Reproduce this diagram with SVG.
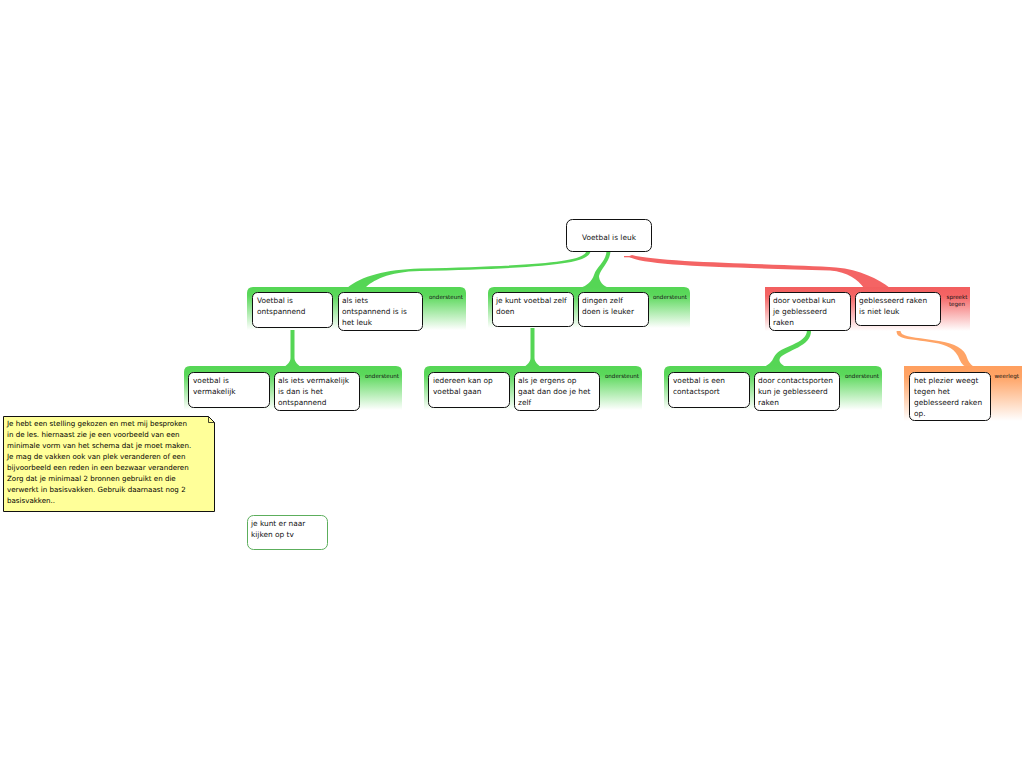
<svg xmlns="http://www.w3.org/2000/svg" width="1024" height="768" viewBox="0 0 1024 768">
<defs>
<linearGradient id="gGreen" x1="0" y1="0" x2="0" y2="1">
<stop offset="0" stop-color="#55d655"/><stop offset="0.2" stop-color="#5bd85b"/><stop offset="1" stop-color="#ffffff"/>
</linearGradient>
<linearGradient id="gRed" x1="0" y1="0" x2="0" y2="1">
<stop offset="0" stop-color="#f25f5f"/><stop offset="0.2" stop-color="#f46464"/><stop offset="1" stop-color="#ffffff"/>
</linearGradient>
<linearGradient id="gOrange" x1="0" y1="0" x2="0" y2="1">
<stop offset="0" stop-color="#ff9f5f"/><stop offset="0.2" stop-color="#ffa466"/><stop offset="1" stop-color="#ffffff"/>
</linearGradient>
</defs>
<style>
text{font-family:"DejaVu Sans","Liberation Sans",sans-serif;font-size:7.4px;fill:#111}
.box{fill:#fff;stroke:#111;stroke-width:1}
.lbl{font-size:5.6px;text-anchor:end}
.note{font-size:7.1px;fill:#000}
.green{fill:#55d655}
.red{fill:#f46464}
.orange{fill:#ffa466}
</style>
<rect width="1024" height="768" fill="#fff"/>

<g id="connectors">
<path class="green" d="M586.5,251 C584,262 540,265.5 420,268.5 C385,269.5 362,276 347,288 L365,288 C372,281 388,271.5 420,271 C545,268 590,264 590.5,251 Z"/>
<path class="green" d="M606.5,251 C606,262 597,266 594,275 C592,281 587,286 580,288 L609,288 C603,286 599,281 599,276 C601,268 610,262 610.5,251 Z"/>
<path class="red" d="M632,255 C660,263 790,264 836,267.5 C860,269.5 878,279 890,288 L864,288 C858,280 848,272 830,270.5 C720,267 645,266 628,256.5 Z"/>
<rect class="red" x="624" y="256" width="10" height="1.3"/>
<path class="green" d="M290.5,327 L290.5,358 C290.5,362 287,365 284,367 L301,367 C298,365 294.5,362 294.5,358 L294.5,327 Z"/>
<path class="green" d="M530.5,326 L530.5,358 C530.5,362 527,365 524,367 L541,367 C538,365 534.5,362 534.5,358 L534.5,326 Z"/>
<path class="green" d="M807,330 C807,345 780,345 774,357 C772,362 768,365 764,367 L786,367 C782,365 778,362 780,358 C786,350 812,347 811,330 Z"/>
<path class="orange" d="M898,327 C896,330 896,334 899,336 C910,343 950,338 958,356 C960,361 962,365 966,367 L974,367 C970,364 968,361 966,355 C958,337 914,341 902,334 C900,332 900,329 901,327 Z"/>
</g>

<g id="main">
<rect class="box" x="566.5" y="219.5" width="85" height="32" rx="6"/>
<text x="609" y="240" text-anchor="middle">Voetbal is leuk</text>
</g>

<g id="group1">
<path d="M247,330 L247,293 Q247,287 253,287 L460,287 Q466,287 466,293 L466,330 Z" fill="url(#gGreen)"/>
<text class="lbl" x="463" y="299">ondersteunt</text>
</g>
<g id="n1a">
<rect class="box" x="252.5" y="292.5" width="80" height="35" rx="5"/>
<text x="257" y="303">Voetbal is</text><text x="257" y="314">ontspannend</text>
</g>
<g id="n1b">
<rect class="box" x="338.5" y="292.5" width="84" height="38" rx="5"/>
<text x="342" y="303">als iets</text><text x="342" y="314">ontspannend is is</text><text x="342" y="325">het leuk</text>
</g>

<g id="group2">
<path d="M488,328 L488,293 Q488,287 494,287 L684,287 Q690,287 690,293 L690,328 Z" fill="url(#gGreen)"/>
<text class="lbl" x="687" y="299">ondersteunt</text>
</g>
<g id="n2a">
<rect class="box" x="492.5" y="292.5" width="81" height="34" rx="5"/>
<text x="496" y="303">je kunt voetbal zelf</text><text x="496" y="314">doen</text>
</g>
<g id="n2b">
<rect class="box" x="578.5" y="292.5" width="70" height="34" rx="5"/>
<text x="582" y="303">dingen zelf</text><text x="582" y="314">doen is leuker</text>
</g>

<g id="group3">
<rect x="765" y="287" width="205" height="44" fill="url(#gRed)"/>
<text class="lbl" x="957" y="299" style="text-anchor:middle">spreekt</text>
<text class="lbl" x="957" y="306" style="text-anchor:middle">tegen</text>
</g>
<g id="n3a">
<rect class="box" x="769.5" y="292.5" width="81" height="38" rx="5"/>
<text x="773" y="303">door voetbal kun</text><text x="773" y="314">je geblesseerd</text><text x="773" y="325">raken</text>
</g>
<g id="n3b">
<rect class="box" x="855.5" y="292.5" width="85" height="33" rx="5"/>
<text x="859" y="303">geblesseerd raken</text><text x="859" y="314">is niet leuk</text>
</g>

<g id="group4">
<path d="M184,410 L184,372 Q184,366 190,366 L396,366 Q402,366 402,372 L402,410 Z" fill="url(#gGreen)"/>
<text class="lbl" x="399" y="378">ondersteunt</text>
</g>
<g id="n4a">
<rect class="box" x="188.5" y="372.5" width="81" height="35" rx="5"/>
<text x="193" y="383">voetbal is</text><text x="193" y="394">vermakelijk</text>
</g>
<g id="n4b">
<rect class="box" x="274.5" y="372.5" width="85" height="38" rx="5"/>
<text x="278" y="383">als iets vermakelijk</text><text x="278" y="394">is dan is het</text><text x="278" y="405">ontspannend</text>
</g>

<g id="group5">
<path d="M424,410 L424,372 Q424,366 430,366 L636,366 Q642,366 642,372 L642,410 Z" fill="url(#gGreen)"/>
<text class="lbl" x="639" y="378">ondersteunt</text>
</g>
<g id="n5a">
<rect class="box" x="428.5" y="372.5" width="81" height="35" rx="5"/>
<text x="433" y="383">iedereen kan op</text><text x="433" y="394">voetbal gaan</text>
</g>
<g id="n5b">
<rect class="box" x="514.5" y="372.5" width="85" height="38" rx="5"/>
<text x="518" y="383">als je ergens op</text><text x="518" y="394">gaat dan doe je het</text><text x="518" y="405">zelf</text>
</g>

<g id="group6">
<path d="M664,410 L664,372 Q664,366 670,366 L876,366 Q882,366 882,372 L882,410 Z" fill="url(#gGreen)"/>
<text class="lbl" x="879" y="378">ondersteunt</text>
</g>
<g id="n6a">
<rect class="box" x="668.5" y="372.5" width="81" height="35" rx="5"/>
<text x="673" y="383">voetbal is een</text><text x="673" y="394">contactsport</text>
</g>
<g id="n6b">
<rect class="box" x="754.5" y="372.5" width="85" height="38" rx="5"/>
<text x="758" y="383">door contactsporten</text><text x="758" y="394">kun je geblesseerd</text><text x="758" y="405">raken</text>
</g>

<g id="group7">
<rect x="904" y="366" width="118" height="55" fill="url(#gOrange)"/>
<text class="lbl" x="1019" y="378">weerlegt</text>
</g>
<g id="n7a">
<rect class="box" x="909.5" y="372.5" width="81" height="48" rx="5"/>
<text x="914" y="383">het plezier weegt</text><text x="914" y="394">tegen het</text><text x="914" y="405">geblesseerd raken</text><text x="914" y="416">op.</text>
</g>

<g id="note">
<path d="M3.5,416.5 L208.5,416.5 L214.5,422.5 L214.5,511.5 L3.5,511.5 Z" fill="#ffff99" stroke="#111" stroke-width="1"/>
<path d="M208.5,416.5 L208.5,422.5 L214.5,422.5" fill="none" stroke="#111" stroke-width="0.8"/>
<text class="note" x="7" y="426">Je hebt een stelling gekozen en met mij besproken</text>
<text class="note" x="7" y="437">in de les. hiernaast zie je een voorbeeld van een</text>
<text class="note" x="7" y="448">minimale vorm van het schema dat je moet maken.</text>
<text class="note" x="7" y="459">Je mag de vakken ook van plek veranderen of een</text>
<text class="note" x="7" y="470">bijvoorbeeld een reden in een bezwaar veranderen</text>
<text class="note" x="7" y="481">Zorg dat je minimaal 2 bronnen gebruikt en die</text>
<text class="note" x="7" y="492">verwerkt in basisvakken. Gebruik daarnaast nog 2</text>
<text class="note" x="7" y="503">basisvakken..</text>
</g>

<g id="floating">
<rect x="247.5" y="515.5" width="80" height="34" rx="6" fill="#fff" stroke="#5cae5c" stroke-width="1"/>
<text x="251" y="526">je kunt er naar</text><text x="251" y="537">kijken op tv</text>
</g>
</svg>
